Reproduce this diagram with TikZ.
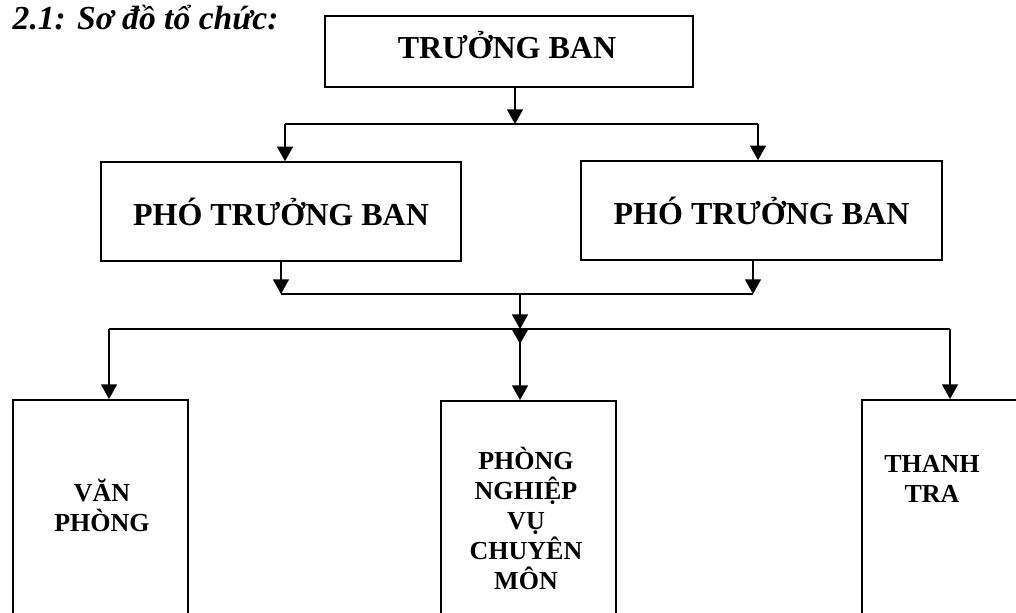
\documentclass[tikz,border=0pt]{standalone}
\usepackage{fontspec}
\setmainfont{Liberation Serif}
\usetikzlibrary{arrows.meta}

\begin{document}
\begin{tikzpicture}[x=0.75pt,y=-0.75pt,
		box/.style={draw,line width=1.2pt,inner sep=0pt},
		arr/.style={line width=1.1pt,-{Triangle[width=12pt,length=11pt]}},
		conn/.style={line width=1.1pt},
		bigtext/.style={font=\fontsize{24}{28}\selectfont\bfseries},
		smalltext/.style={font=\fontsize{19.5}{22.5}\selectfont\bfseries,align=center}]
		\clip (0,0) rectangle (1016,612);
		\node[anchor=base west,font=\fontsize{25.2}{28}\selectfont\bfseries\itshape] (title) at (8,29) {2.1: Sơ đồ tổ chức:};
		\node[box,minimum width=276pt,minimum height=53.25pt] (tb) at (509,51.5) {};
		\node[bigtext] (tb-text) at (507,45) {TRƯỞNG BAN};
		\node[box,bigtext,minimum width=270pt,minimum height=74.25pt] (ptb1) at (281,211.5) {PHÓ TRƯỞNG BAN};
		\node[box,bigtext,minimum width=270.75pt,minimum height=74.25pt] (ptb2) at (761.5,210.5) {PHÓ TRƯỞNG BAN};
		% lower boxes run off the bottom edge
		\node[box,minimum width=131.25pt,minimum height=180pt,anchor=north] (vp) at (100.5,399) {};
		\node[box,minimum width=131.25pt,minimum height=180pt,anchor=north] (pn) at (528.5,400) {};
		\node[box,minimum width=131.25pt,minimum height=180pt,anchor=north west] (tt) at (861,399) {};
		\node[smalltext] (vp-text) at (102,505) {VĂN\\PHÒNG};
		\node[smalltext] (pn-text) at (526,518) {PHÒNG\\NGHIỆP\\VỤ\\CHUYÊN\\MÔN};
		\node[smalltext] (tt-text) at (932,479) {THANH\\TRA};
		% first level
		\coordinate (j1) at (515,124);
		\coordinate (l1) at (285,124);
		\coordinate (r1) at (758,124);
		\draw[arr] (tb.south -| j1) -- (j1);
		\draw[conn] (l1) -- (r1);
		\draw[arr] (l1) -- (l1 |- ptb1.north);
		\draw[arr] (r1) -- (r1 |- ptb2.north);
		% second level
		\coordinate (l2) at (281,294);
		\coordinate (r2) at (753,294);
		\coordinate (j2) at (520,294);
		\draw[arr] (ptb1.south -| l2) -- (l2);
		\draw[arr] (ptb2.south -| r2) -- (r2);
		\draw[conn] (l2) -- (r2);
		\coordinate (j3) at (520,329);
		\coordinate (l3) at (109,329);
		\coordinate (r3) at (950,329);
		\draw[arr] (j2) -- (j3);
		\draw[conn] (l3) -- (r3);
		\draw[arr] (j3) -- ++(0,15);
		\draw[arr] (j3) -- (j3 |- pn.north);
		\draw[arr] (l3) -- (l3 |- vp.north);
		\draw[arr] (r3) -- (r3 |- tt.north);
		%\draw[red] (0,0) rectangle (1016,612);
\end{tikzpicture}
\end{document}
